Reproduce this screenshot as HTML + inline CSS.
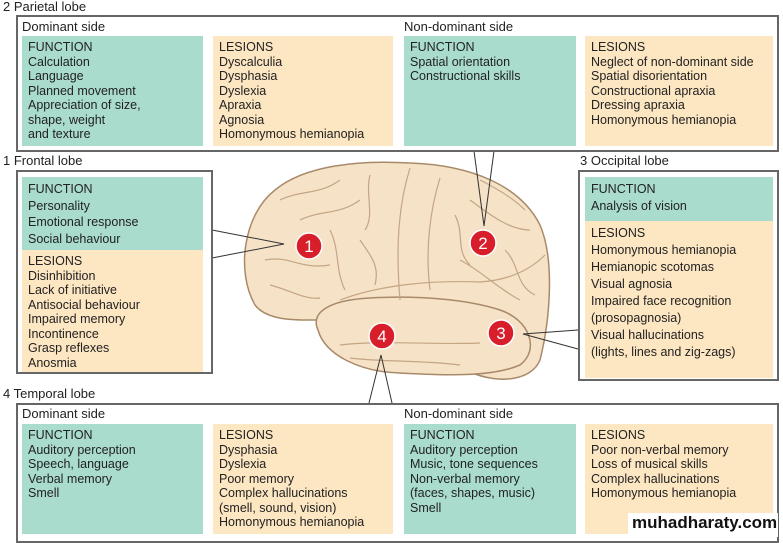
<!DOCTYPE html>
<html><head><meta charset="utf-8"><style>
body{margin:0;width:783px;height:539px;background:#fff;position:relative;overflow:hidden;font-family:"Liberation Sans",sans-serif;color:#222}
.a{position:absolute}
.lbl{font-size:13px;color:#222}
.box{position:absolute;border:2px solid #666;box-sizing:border-box}
.t{position:absolute;background:#a9dccd;font-size:12.5px;line-height:14.5px;padding:4px 6px;box-sizing:border-box}
.p{position:absolute;background:#fde6c2;font-size:12.5px;line-height:14.5px;padding:4px 6px;box-sizing:border-box}
</style></head><body>
<svg class="a" style="left:0;top:0" width="783" height="539">
<g fill="#f5e2c7" stroke="#a88a6a" stroke-width="1.5">
<path d="M255,305 C236,272 243,215 275,190 C305,165 360,160 410,163 C470,165 520,185 540,225 C555,260 550,320 540,360 C532,380 500,385 470,372 C440,368 420,372 400,370 C350,372 330,340 320,320 C300,320 268,322 255,305 Z"/>
<path d="M318,330 C310,312 330,300 370,298 C420,295 470,300 500,310 C530,320 540,350 520,365 C490,378 440,375 400,373 C360,372 325,355 318,330 Z"/>
</g>
<g fill="none" stroke="#c4a584" stroke-width="1.2">
<path d="M410,168 C400,200 395,240 400,300"/>
<path d="M440,178 C430,210 425,250 430,290"/>
<path d="M300,220 C320,210 340,215 360,200"/>
<path d="M265,260 C290,255 300,270 330,265"/>
<path d="M340,300 C380,285 430,280 480,282 C510,280 530,270 545,255"/>
<path d="M470,200 C490,215 510,230 530,230"/>
<path d="M360,240 C370,255 380,265 375,285"/>
<path d="M340,345 C380,340 430,345 480,343"/>
<path d="M460,260 C480,270 500,290 520,300"/>
<path d="M280,200 C300,190 320,195 340,180"/>
<path d="M370,175 C365,195 375,215 365,230"/>
<path d="M330,230 C340,250 335,270 345,290"/>
<path d="M455,215 C465,235 455,250 470,265"/>
<path d="M505,250 C520,265 515,285 535,295"/>
<path d="M270,285 C290,290 305,300 320,298"/>
<path d="M350,358 C380,362 420,360 460,365"/>
<path d="M480,180 C500,190 515,200 525,210"/>
</g>
<g stroke="#333" stroke-width="1" fill="none">
<polyline points="212,230 284,244 212,258"/>
<polyline points="474,151 484,226 494,151"/>
<polyline points="578,330 523,334 578,349"/>
<polyline points="369,403 381,355 392,403"/>
</g>
<g fill="#d81e2a" stroke="#fff" stroke-width="1.5">
<circle cx="309" cy="246" r="13"/><circle cx="483" cy="243" r="13"/><circle cx="501" cy="333" r="13"/><circle cx="382" cy="336" r="13"/>
</g>
<g fill="#fff" font-family="Liberation Sans" font-size="17" text-anchor="middle">
<text x="309" y="252">1</text><text x="483" y="249">2</text><text x="501" y="339">3</text><text x="382" y="342">4</text>
</g>
</svg>

<div class="a lbl" style="left:3px;top:-1px">2 Parietal lobe</div>
<div class="box" style="left:16px;top:15px;width:763px;height:137px"></div>
<div class="a lbl" style="left:22px;top:19px">Dominant side</div>
<div class="a lbl" style="left:404px;top:19px">Non-dominant side</div>
<div class="t" style="left:22px;top:36px;width:181px;height:110px">FUNCTION<br>Calculation<br>Language<br>Planned movement<br>Appreciation of size,<br>shape, weight<br>and texture</div>
<div class="p" style="left:213px;top:36px;width:180px;height:110px">LESIONS<br>Dyscalculia<br>Dysphasia<br>Dyslexia<br>Apraxia<br>Agnosia<br>Homonymous hemianopia</div>
<div class="t" style="left:404px;top:36px;width:172px;height:110px">FUNCTION<br>Spatial orientation<br>Constructional skills</div>
<div class="p" style="left:585px;top:36px;width:188px;height:110px">LESIONS<br>Neglect of non-dominant side<br>Spatial disorientation<br>Constructional apraxia<br>Dressing apraxia<br>Homonymous hemianopia</div>

<div class="a lbl" style="left:3px;top:153px">1 Frontal lobe</div>
<div class="box" style="left:16px;top:170px;width:197px;height:204px"></div>
<div class="t" style="left:22px;top:177px;width:181px;height:73px;line-height:16.5px">FUNCTION<br>Personality<br>Emotional response<br>Social behaviour</div>
<div class="p" style="left:22px;top:250px;width:181px;height:122px">LESIONS<br>Disinhibition<br>Lack of initiative<br>Antisocial behaviour<br>Impaired memory<br>Incontinence<br>Grasp reflexes<br>Anosmia</div>

<div class="a lbl" style="left:580px;top:153px">3 Occipital lobe</div>
<div class="box" style="left:578px;top:170px;width:201px;height:211px"></div>
<div class="t" style="left:585px;top:177px;width:188px;height:44px;line-height:17px">FUNCTION<br>Analysis of vision</div>
<div class="p" style="left:585px;top:221px;width:188px;height:157px;line-height:17px">LESIONS<br>Homonymous hemianopia<br>Hemianopic scotomas<br>Visual agnosia<br>Impaired face recognition<br>(prosopagnosia)<br>Visual hallucinations<br>(lights, lines and zig-zags)</div>

<div class="a lbl" style="left:3px;top:386px">4 Temporal lobe</div>
<div class="box" style="left:16px;top:403px;width:763px;height:140px"></div>
<div class="a lbl" style="left:22px;top:406px">Dominant side</div>
<div class="a lbl" style="left:404px;top:406px">Non-dominant side</div>
<div class="t" style="left:22px;top:424px;width:181px;height:110px">FUNCTION<br>Auditory perception<br>Speech, language<br>Verbal memory<br>Smell</div>
<div class="p" style="left:213px;top:424px;width:180px;height:110px">LESIONS<br>Dysphasia<br>Dyslexia<br>Poor memory<br>Complex hallucinations<br>(smell, sound, vision)<br>Homonymous hemianopia</div>
<div class="t" style="left:404px;top:424px;width:172px;height:110px">FUNCTION<br>Auditory perception<br>Music, tone sequences<br>Non-verbal memory<br>(faces, shapes, music)<br>Smell</div>
<div class="p" style="left:585px;top:424px;width:188px;height:110px">LESIONS<br>Poor non-verbal memory<br>Loss of musical skills<br>Complex hallucinations<br>Homonymous hemianopia</div>
<div class="a" style="left:628px;top:513px;width:150px;height:24px;background:#fff;font-weight:bold;font-size:17px;color:#111;padding-left:4px;box-sizing:border-box">muhadharaty.com</div>
</body></html>
